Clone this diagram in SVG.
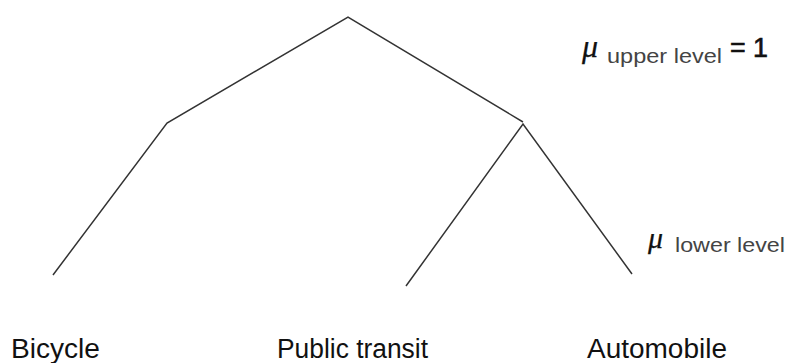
<svg xmlns="http://www.w3.org/2000/svg" width="787" height="363" viewBox="0 0 787 363">
<style>
.edge{fill:none;stroke:#333;stroke-width:1.5;stroke-linejoin:miter}
.lbl{font-family:"Liberation Sans",Arial,sans-serif;fill:#111}
.mu{font-family:"Liberation Serif","DejaVu Serif",serif;font-style:italic;fill:#111;stroke:#111;stroke-width:0.25}
.sub{font-family:"Liberation Sans",Arial,sans-serif;fill:#444}
</style>
<rect width="787" height="363" fill="#fff"/>
<g id="connectors">
<polyline class="edge" points="53,275 167,123 348,17 523,122"/>
<polyline class="edge" points="406,286 523,124 632,274"/>
</g>
<g id="node-bicycle"><text class="lbl" x="11" y="358" font-size="27" textLength="89" lengthAdjust="spacingAndGlyphs">Bicycle</text></g>
<g id="node-public-transit"><text class="lbl" x="277" y="358" font-size="27" textLength="151" lengthAdjust="spacingAndGlyphs">Public transit</text></g>
<g id="node-automobile"><text class="lbl" x="587" y="358" font-size="27" textLength="140" lengthAdjust="spacingAndGlyphs">Automobile</text></g>
<g id="label-upper">
<text class="mu" x="582" y="57" font-size="32">μ</text>
<text class="sub" x="607" y="63" font-size="21" textLength="115" lengthAdjust="spacingAndGlyphs">upper level</text>
<text class="lbl" x="730" y="57" font-size="28" stroke="#111" stroke-width="0.7" textLength="38" lengthAdjust="spacingAndGlyphs">= 1</text>
</g>
<g id="label-lower">
<text class="mu" x="648" y="248" font-size="30">μ</text>
<text class="sub" x="675" y="252" font-size="21" textLength="110" lengthAdjust="spacingAndGlyphs">lower level</text>
</g>
</svg>
